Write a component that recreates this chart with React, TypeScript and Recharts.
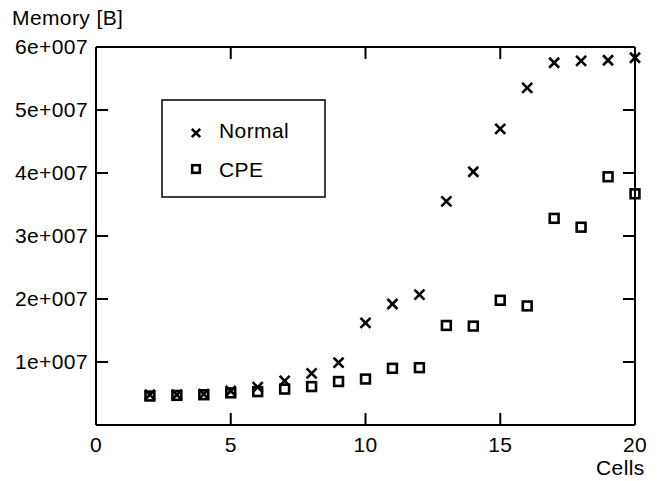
import React from 'react';
import { ScatterChart, Scatter, XAxis, YAxis, Legend } from 'recharts';

const cells = [2, 3, 4, 5, 6, 7, 8, 9, 10, 11, 12, 13, 14, 15, 16, 17, 18, 19, 20];
const normalMem = [4.8e6, 4.8e6, 4.9e6, 5.4e6, 6.0e6, 7.0e6, 8.2e6, 9.9e6, 16.2e6, 19.2e6, 20.7e6, 35.5e6, 40.2e6, 47.0e6, 53.5e6, 57.5e6, 57.8e6, 57.9e6, 58.3e6];
const cpeMem = [4.6e6, 4.7e6, 4.8e6, 5.1e6, 5.3e6, 5.7e6, 6.1e6, 6.9e6, 7.3e6, 9.0e6, 9.1e6, 15.8e6, 15.7e6, 19.8e6, 18.9e6, 32.8e6, 31.4e6, 39.4e6, 36.7e6];
const xTicks = [0, 5, 10, 15, 20];
const yTicks = [0, 1e7, 2e7, 3e7, 4e7, 5e7, 6e7];

const normalData = cells.map((c, i) => ({ cells: c, mem: normalMem[i] }));
const cpeData = cells.map((c, i) => ({ cells: c, mem: cpeMem[i] }));

const FONT = '"Liberation Sans", Arial, sans-serif';
const FS = 21;
const LS = 0.4;
const TICK = 12;

const fmtY = (v: number) => (v === 0 ? '' : `${v / 1e7}e+007`);

const Cross = (props: any) => {
  const { cx, cy } = props;
  const s = props.half ?? 5;
  return (
    <g stroke="#000" strokeWidth={2.6}>
      <line x1={cx - s} y1={cy - s} x2={cx + s} y2={cy + s} />
      <line x1={cx - s} y1={cy + s} x2={cx + s} y2={cy - s} />
    </g>
  );
};

const Square = (props: any) => {
  const { cx, cy } = props;
  const h = props.half ?? 4.4;
  return <rect x={cx - h} y={cy - h} width={2 * h} height={2 * h} fill="none" stroke="#000" strokeWidth={2.6} />;
};

const BottomTick = ({ x, y, payload }: any) => (
  <g>
    <line x1={x} y1={y} x2={x} y2={y - TICK} stroke="#000" strokeWidth={2} />
    <text x={x} y={y + 27} textAnchor="middle" fontSize={FS} letterSpacing={LS} fontFamily={FONT} fill="#000">{payload.value}</text>
  </g>
);

const TopTick = ({ x, y }: any) => (
  <line x1={x} y1={y} x2={x} y2={y + TICK} stroke="#000" strokeWidth={2} />
);

const LeftTick = ({ x, y, payload }: any) => (
  <g>
    <line x1={x} y1={y} x2={x + TICK} y2={y} stroke="#000" strokeWidth={2} />
    <text x={x - 8} y={y + 7} textAnchor="end" fontSize={FS} letterSpacing={LS} fontFamily={FONT} fill="#000">{fmtY(payload.value)}</text>
  </g>
);

const RightTick = ({ x, y }: any) => (
  <line x1={x} y1={y} x2={x - TICK} y2={y} stroke="#000" strokeWidth={2} />
);

const LegendBox = () => (
  <svg width={166} height={99} style={{ display: 'block' }}>
    <rect x={1} y={1} width={163} height={97} fill="#fff" stroke="#000" strokeWidth={1.5} />
    <Cross cx={35} cy={34} half={4.2} />
    <text x={58} y={39} fontSize={FS} letterSpacing={LS} fontFamily={FONT}>Normal</text>
    <Square cx={35} cy={70} half={3.8} />
    <text x={58} y={78} fontSize={FS} letterSpacing={LS} fontFamily={FONT}>CPE</text>
  </svg>
);

export default function App() {
  return (
    <div style={{ position: 'absolute', left: 0, top: 0, width: 660, height: 481, background: '#fff', fontFamily: FONT }}>
      <ScatterChart width={660} height={481} margin={{ top: 37, right: 15, bottom: 26, left: 16 }}>
        <XAxis xAxisId="b" dataKey="cells" type="number" domain={[0, 20]} ticks={xTicks} interval={0}
          orientation="bottom" height={30} tickSize={0} tickMargin={0} tick={BottomTick}
          axisLine={{ stroke: '#000', strokeWidth: 2 }} tickLine={false} />
        <XAxis xAxisId="t" dataKey="cells" type="number" domain={[0, 20]} ticks={xTicks} interval={0}
          orientation="top" height={10} tickSize={0} tickMargin={0} tick={TopTick}
          axisLine={{ stroke: '#000', strokeWidth: 2 }} tickLine={false} />
        <YAxis yAxisId="l" dataKey="mem" type="number" domain={[0, 6e7]} ticks={yTicks} interval={0}
          orientation="left" width={80} tickSize={0} tickMargin={0} tick={LeftTick}
          axisLine={{ stroke: '#000', strokeWidth: 2 }} tickLine={false} />
        <YAxis yAxisId="r" dataKey="mem" type="number" domain={[0, 6e7]} ticks={yTicks} interval={0}
          orientation="right" width={10} tickSize={0} tickMargin={0} tick={RightTick}
          axisLine={{ stroke: '#000', strokeWidth: 2 }} tickLine={false} />
        <Legend content={LegendBox} layout="vertical" verticalAlign="middle" align="center"
          wrapperStyle={{ left: 161, top: 99, width: 166, height: 99 }} />
        <Scatter name="CPE" data={cpeData} xAxisId="b" yAxisId="l" shape={Square} isAnimationActive={false} />
        <Scatter name="Normal" data={normalData} xAxisId="b" yAxisId="l" shape={Cross} isAnimationActive={false} />
        <Scatter name="hidden" data={normalData} xAxisId="t" yAxisId="r" shape={() => null} legendType="none" isAnimationActive={false} />
      </ScatterChart>
      <div style={{ position: 'absolute', left: 12, top: 5, fontSize: FS, letterSpacing: LS, color: '#000', lineHeight: '26px' }}>Memory [B]</div>
      <div style={{ position: 'absolute', left: 596, top: 456, fontSize: FS, letterSpacing: LS, color: '#000', lineHeight: '24px' }}>Cells</div>
    </div>
  );
}
